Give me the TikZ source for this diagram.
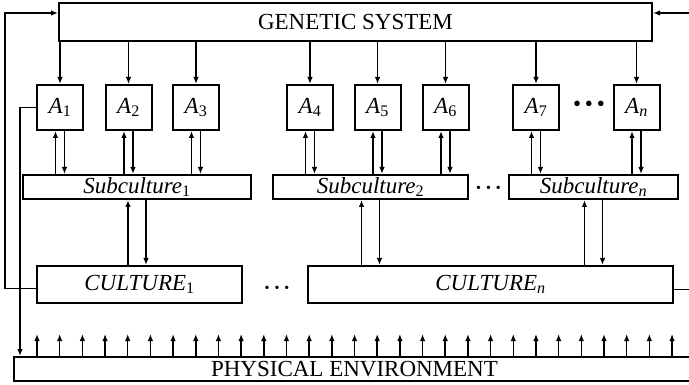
\documentclass[tikz,border=0pt]{standalone}
\usepackage{fontspec}
\setmainfont{Liberation Serif}
\usetikzlibrary{arrows.meta}
\newcommand{\lbl}[2]{\textit{#1}\textsubscript{#2}}
\newcommand{\smalldots}{{\fontsize{14}{16}\selectfont\textbullet\hspace{5pt}\textbullet\hspace{5pt}\textbullet}}
\tikzset{
  box/.style={draw, line width=2pt, inner sep=0pt, font=\fontsize{23}{26}\selectfont},
  abox/.style={box, minimum width=46pt, minimum height=45pt},
  subbox/.style={box, minimum height=24pt},
  culbox/.style={box, minimum height=37pt},
  dots/.style={inner sep=0pt, font=\fontsize{23}{26}\selectfont},
  arr/.style={line width=1.5pt, -{Latex[length=7pt,width=5.5pt]}},
}

\begin{document}
\begin{tikzpicture}[x=1pt,y=-1pt]
  \clip (0,0) rectangle (689,385);
  \node[box, minimum width=593pt, minimum height=38pt] (gen) at (355.5,22) {GENETIC SYSTEM};
  \foreach \name/\x/\lab in {a1/60/1, a2/128.5/2, a3/196/3, a4/310/4, a5/377.5/5, a6/445.5/6, a7/536/7, an/636.5/\textit{n}}
    \node[abox] (\name) at (\x,107.5) {\lbl{A}{\lab}};
  \node[dots] (adots) at (589,106) {\textbullet\,\textbullet\,\textbullet};
  \node[subbox, minimum width=228pt] (s1) at (137,187) {\lbl{Subculture}{1}};
  \node[subbox, minimum width=195pt] (s2) at (370.5,187) {\lbl{Subculture}{2}};
  \node[subbox, minimum width=169pt] (sn) at (593.5,187) {\lbl{Subculture}{\textit{n}}};
  \node[dots] (sdots) at (488.5,189) {\smalldots};
  \node[culbox, minimum width=205pt] (c1) at (139.5,284.5) {\lbl{CULTURE}{1}};
  \node[culbox, minimum width=365pt] (cn) at (490.5,284.5) {\lbl{CULTURE}{\textit{n}}};
  \node[dots] (cdots) at (277,289) {\smalldots};
  \node[box, minimum width=681pt, minimum height=24pt] (phys) at (354.5,369) {PHYSICAL ENVIRONMENT};

  % genes to the A's, and A's to and from their subcultures
  \foreach \name/\sub in {a1/s1, a2/s1, a3/s1, a4/s2, a5/s2, a6/s2, a7/sn, an/sn} {
    \draw[arr] (gen.south -| \name) -- (\name.north);
    \coordinate (up) at ([xshift=-4.5pt]\name.south);
    \coordinate (dn) at ([xshift=4.5pt]\name.south);
    \draw[arr] (up |- \sub.north) -- (up);
    \draw[arr] (dn) -- (dn |- \sub.north);
  }
  % subcultures to and from cultures
  \foreach \sub/\cul in {s1/c1, s2/cn, sn/cn} {
    \coordinate (up) at ([xshift=-9pt]\sub.south);
    \coordinate (dn) at ([xshift=9pt]\sub.south);
    \draw[arr] (up |- \cul.north) -- (up);
    \draw[arr] (dn) -- (dn |- \cul.north);
  }
  % feedback loops
  \coordinate (lft) at (5,13);
  \coordinate (rgt) at (695,13);
  \coordinate (drop) at (20,0);
  \draw[arr] ([yshift=-4pt]c1.west) -| (lft) -- (lft -| gen.west);
  \draw[arr] ([yshift=-5pt]cn.east) -| (rgt) -- (rgt -| gen.east);
  \draw[arr] (a1.west) -| (drop |- phys.north);
  \foreach \i in {0,...,28}
    \draw[arr] ([xshift=24+\i*22.68]phys.north west) -- ++(0,-22);
\end{tikzpicture}
\end{document}
